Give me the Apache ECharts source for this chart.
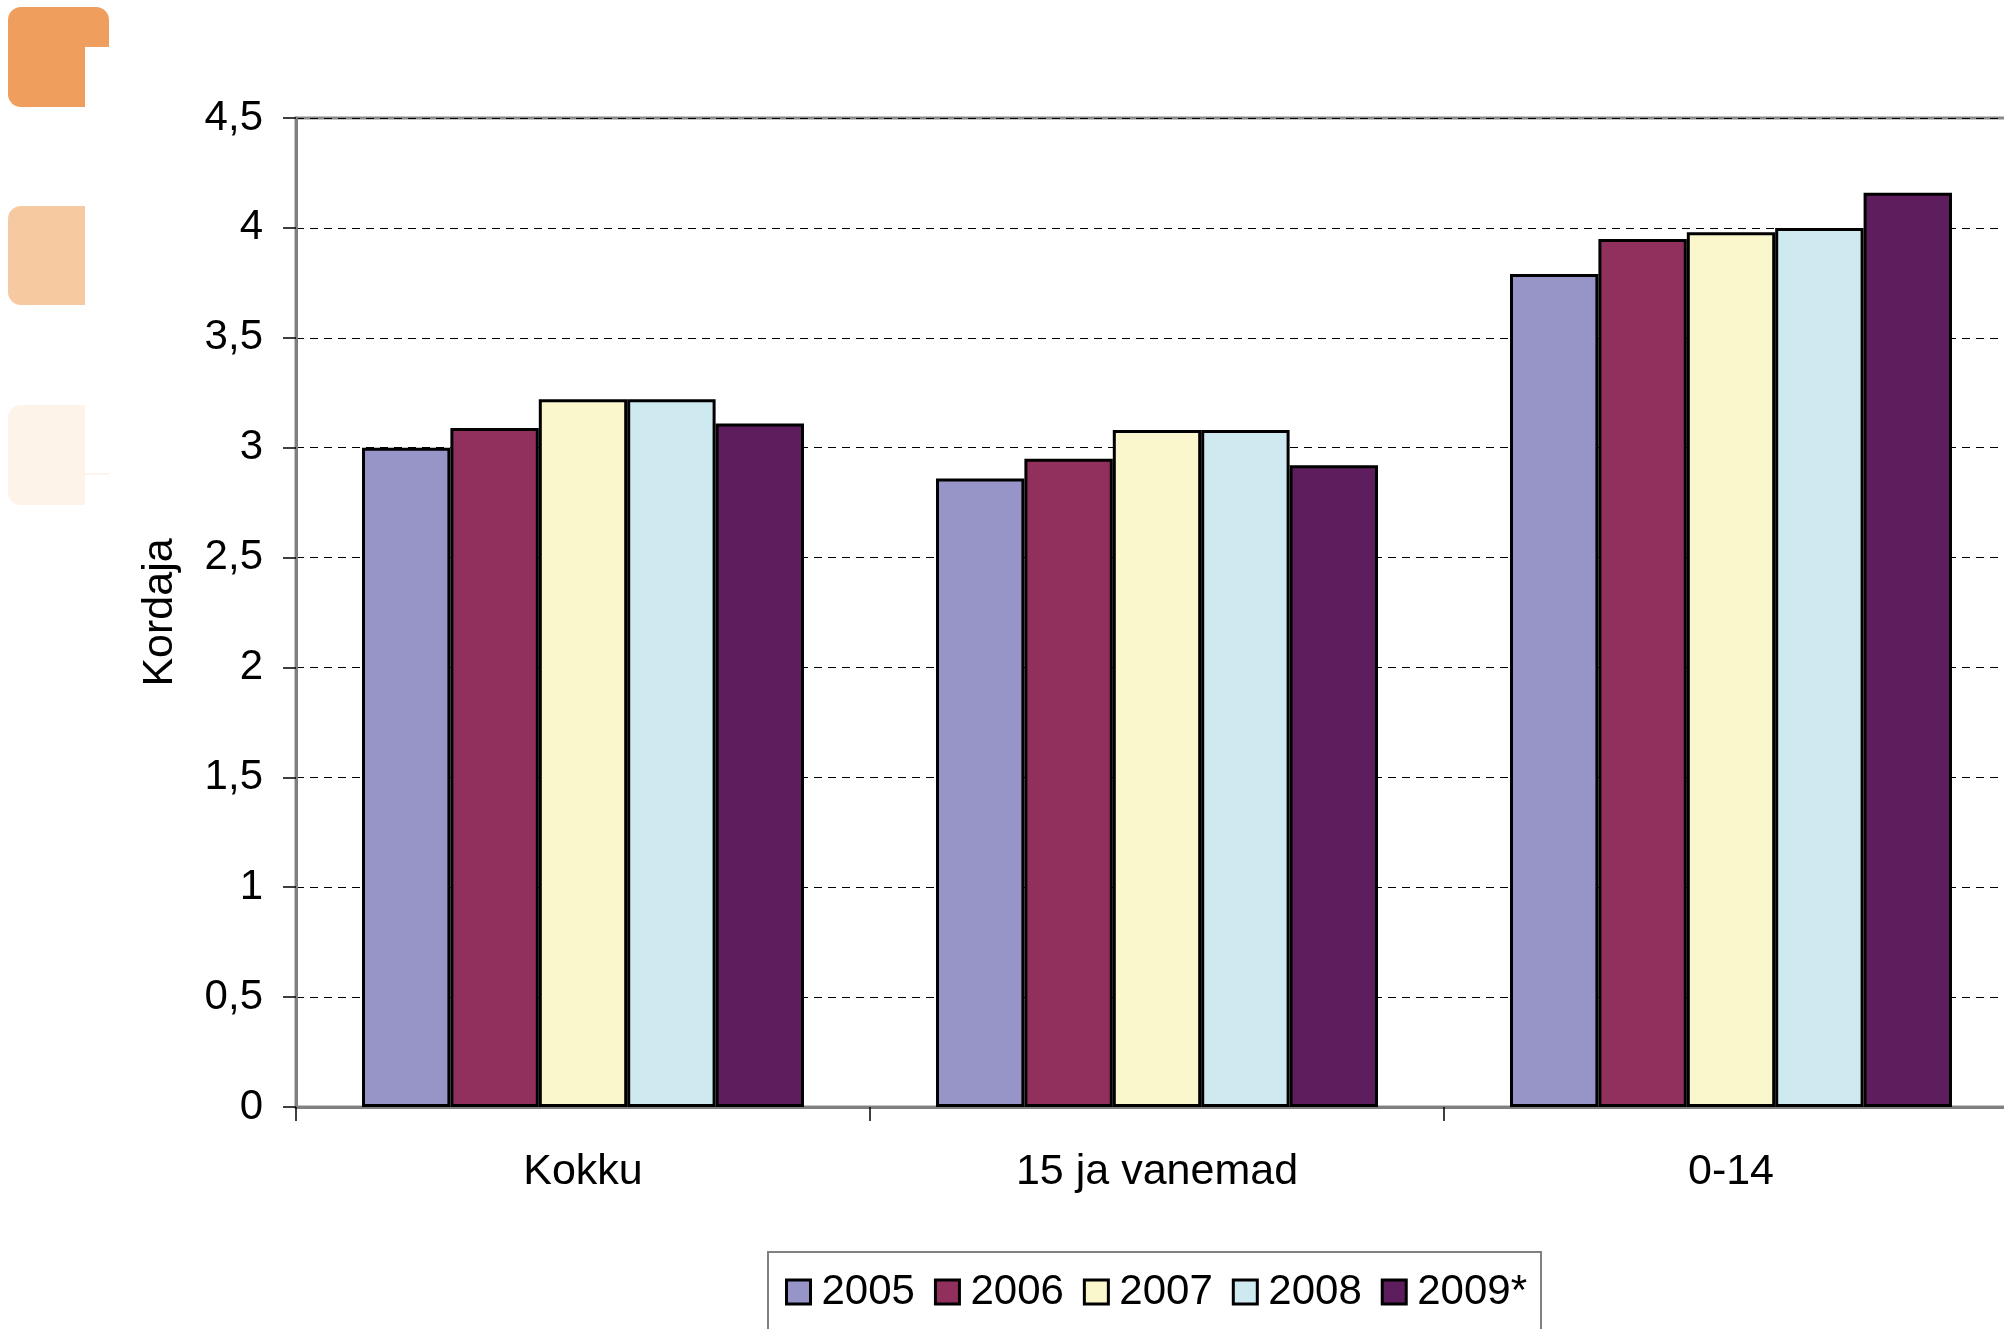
<!DOCTYPE html>
<html>
<head>
<meta charset="utf-8">
<script src="https://cdn.jsdelivr.net/npm/echarts@6/dist/echarts.min.js"></script>
<style>
html,body{margin:0;padding:0;background:#fff;overflow:hidden;width:2004px;height:1329px;}
#chart{width:2040px;height:1329px;}
</style>
</head>
<body>
<div id="chart"></div>
<script>
const categories = ['Kokku', '15 ja vanemad', '0-14'];
const seriesNames = ['2005', '2006', '2007', '2008', '2009*'];
const v2005 = [3.00, 2.86, 3.79];
const v2006 = [3.09, 2.95, 3.95];
const v2007 = [3.22, 3.08, 3.98];
const v2008 = [3.22, 3.08, 4.00];
const v2009 = [3.11, 2.92, 4.16];
const yTicks = [0, 0.5, 1, 1.5, 2, 2.5, 3, 3.5, 4, 4.5];
const colors = ['#9795C7', '#92305D', '#FAF7CD', '#CEEAF0', '#5E1E5E'];
const FONT = '"Liberation Sans", Arial, sans-serif';

const values = [v2005, v2006, v2007, v2008, v2009];
const chart = echarts.init(document.getElementById('chart'), null, {renderer: 'canvas'});

const option = {
  backgroundColor: '#ffffff',
  animation: false,
  textStyle: {fontFamily: FONT},
  graphic: [
    {type: 'rect', shape: {x: 8, y: 7, width: 101, height: 40, r: [13, 13, 0, 0]}, style: {fill: '#EF9E5D'}},
    {type: 'rect', shape: {x: 8, y: 30, width: 77, height: 77, r: [0, 0, 0, 13]}, style: {fill: '#EF9E5D'}},
    {type: 'rect', shape: {x: 8, y: 206, width: 77, height: 99, r: [13, 0, 0, 13]}, style: {fill: '#F7C9A0'}},
    {type: 'rect', shape: {x: 8, y: 405, width: 77, height: 100, r: [13, 0, 0, 13]}, style: {fill: '#FEF3E8'}},
    {type: 'rect', shape: {x: 85, y: 473, width: 24, height: 2}, style: {fill: '#FEF3E8'}}
  ],
  legend: {
    data: seriesNames,
    left: 768,
    top: 1252,
    orient: 'horizontal',
    padding: [19, 14, 40, 17],
    itemGap: 19,
    itemWidth: 24,
    itemHeight: 24,
    borderColor: '#808080',
    borderWidth: 2,
    icon: 'rect',
    itemStyle: {borderColor: '#000', borderWidth: 3},
    textStyle: {fontSize: 42, color: '#000', fontFamily: FONT, padding: [0, 0, 0, 6]}
  },
  grid: {
    left: 296,
    top: 118,
    width: 1722,
    height: 989,
    show: true,
    borderColor: '#8a8a8a',
    borderWidth: 3,
    backgroundColor: 'transparent'
  },
  xAxis: {
    type: 'category',
    data: categories,
    boundaryGap: true,
    axisLine: {show: true, lineStyle: {color: '#808080', width: 3}},
    axisTick: {show: true, length: 14, lineStyle: {color: '#000', width: 1.5}},
    axisLabel: {fontSize: 43, color: '#000', margin: 44, fontFamily: FONT},
    splitLine: {show: false}
  },
  yAxis: {
    type: 'value',
    min: 0,
    max: 4.5,
    interval: 0.5,
    name: 'Kordaja',
    nameLocation: 'middle',
    nameRotate: 90,
    nameGap: 114,
    nameTextStyle: {fontSize: 43, color: '#000', fontFamily: FONT},
    axisLine: {show: true, lineStyle: {color: '#808080', width: 3}},
    axisTick: {show: true, length: 13, lineStyle: {color: '#000', width: 1.5}},
    axisLabel: {
      fontSize: 42, color: '#000', margin: 33, fontFamily: FONT,
      formatter: function (v) { return yTicks.indexOf(v) >= 0 ? String(v).replace('.', ',') : ''; }
    },
    splitLine: {show: true, lineStyle: {color: '#000', width: 1, type: [8, 6]}}
  },
  series: seriesNames.map(function (name, i) {
    return {
      name: name,
      type: 'bar',
      data: values[i],
      barGap: '0%',
      barCategoryGap: '23%',
      itemStyle: {color: colors[i], borderColor: '#000', borderWidth: 3}
    };
  })
};
chart.setOption(option);
</script>
</body>
</html>
